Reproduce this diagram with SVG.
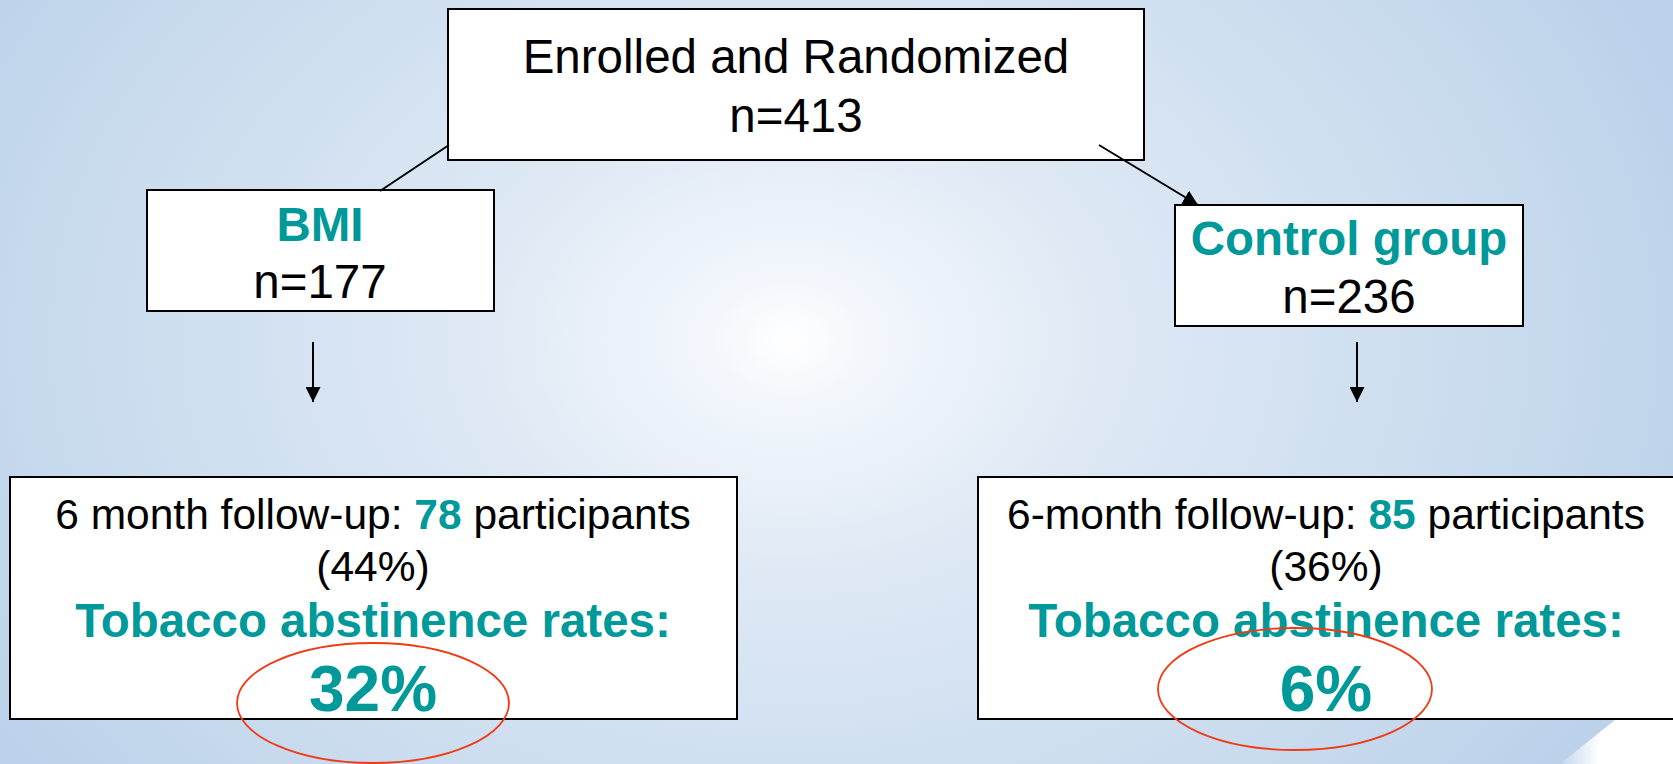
<svg xmlns="http://www.w3.org/2000/svg" width="1673" height="764" viewBox="0 0 1673 764">
  <defs>
    <radialGradient id="bg" cx="790" cy="340" r="950" gradientUnits="userSpaceOnUse" gradientTransform="translate(790 340) scale(1 0.75) translate(-790 -340)">
      <stop offset="0" stop-color="#ffffff"/>
      <stop offset="0.08" stop-color="#f3f7fc"/>
      <stop offset="0.35" stop-color="#dde8f4"/>
      <stop offset="0.75" stop-color="#c9dbee"/>
      <stop offset="1" stop-color="#bcd2ea"/>
    </radialGradient>
    <linearGradient id="swoosh" x1="0" y1="0" x2="1" y2="0">
      <stop offset="0" stop-color="#c2d6ec"/>
      <stop offset="0.35" stop-color="#ffffff"/>
      <stop offset="1" stop-color="#ffffff"/>
    </linearGradient>
    <marker id="arrow" viewBox="0 0 10 10" refX="10" refY="5" markerWidth="15" markerHeight="15" markerUnits="userSpaceOnUse" orient="auto">
      <path d="M0,0 L10,5 L0,10 Z" fill="#000"/>
    </marker>
    <style>
      .box { fill: #ffffff; stroke: #000000; stroke-width: 2; }
      .t { font-family: "Liberation Sans", Arial, sans-serif; text-anchor: middle; fill: #000000; }
      .big { font-size: 47.5px; }
      .mid { font-size: 42.5px; }
      .teal { fill: #00999a; font-weight: bold; }
      .pct { font-size: 64px; }
      .conn { stroke: #000000; stroke-width: 2; fill: none; }
      .ring { fill: none; stroke: #f03a14; stroke-width: 1.8; }
    </style>
  </defs>

  <rect x="0" y="0" width="1673" height="764" fill="url(#bg)"/>
  <polygon points="1560,764 1640,700 1673,690 1673,764" fill="url(#swoosh)"/>

  <g id="node-enrolled">
    <rect class="box" x="448" y="9" width="696" height="151"/>
    <text class="t big" x="796" y="73">Enrolled and Randomized</text>
    <text class="t big" x="796" y="132">n=413</text>
  </g>

  <g id="node-bmi">
    <rect class="box" x="147" y="190" width="347" height="121"/>
    <text class="t big teal" x="320" y="241">BMI</text>
    <text class="t big" x="320" y="298">n=177</text>
  </g>

  <g id="node-control">
    <rect class="box" x="1175" y="205" width="348" height="121"/>
    <text class="t big teal" x="1349" y="255">Control group</text>
    <text class="t big" x="1349" y="313">n=236</text>
  </g>

  <g id="node-bmi-followup">
    <rect class="box" x="10" y="477" width="727" height="242"/>
    <text class="t mid" x="373" y="529">6 month follow-up: <tspan class="teal">78</tspan> participants</text>
    <text class="t mid" x="373" y="581">(44%)</text>
    <text class="t big teal" x="373" y="637">Tobacco abstinence rates:</text>
    <text class="t teal pct" x="373" y="711">32%</text>
  </g>

  <g id="node-control-followup">
    <rect class="box" x="978" y="477" width="700" height="242"/>
    <text class="t mid" x="1326" y="529">6-month follow-up: <tspan class="teal">85</tspan> participants</text>
    <text class="t mid" x="1326" y="581">(36%)</text>
    <text class="t big teal" x="1326" y="637">Tobacco abstinence rates:</text>
    <text class="t teal pct" x="1326" y="711">6%</text>
  </g>

  <g id="connectors">
    <line class="conn" x1="449" y1="145" x2="380" y2="191"/>
    <line class="conn" x1="1099" y1="145" x2="1198" y2="205" marker-end="url(#arrow)"/>
    <line class="conn" x1="313" y1="342" x2="313" y2="402" marker-end="url(#arrow)"/>
    <line class="conn" x1="1357" y1="342" x2="1357" y2="402" marker-end="url(#arrow)"/>
  </g>

  <g id="highlights">
    <ellipse class="ring" cx="373" cy="703" rx="136" ry="60"/>
    <ellipse class="ring" cx="1295" cy="689" rx="137" ry="61"/>
  </g>
</svg>
